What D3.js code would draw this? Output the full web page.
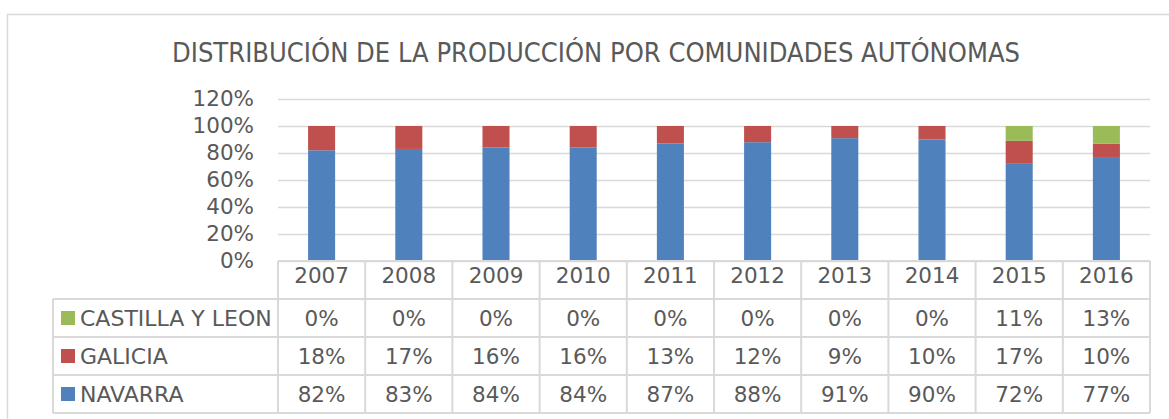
<!DOCTYPE html>
<html>
<head>
<meta charset="utf-8">
<script src="https://cdn.jsdelivr.net/npm/d3@7"></script>
<style>
  body { margin: 0; background: #fff; }
  text { font-family: 'DejaVu Sans', Verdana, sans-serif; fill: #595959; }
</style>
</head>
<body>
<div id="chart"></div>
<script>
const years = ['2007', '2008', '2009', '2010', '2011', '2012', '2013', '2014', '2015', '2016']
const navarra = [0.82, 0.83, 0.84, 0.84, 0.87, 0.88, 0.91, 0.90, 0.72, 0.77]
const galicia = [0.18, 0.17, 0.16, 0.16, 0.13, 0.12, 0.09, 0.10, 0.17, 0.10]
const castilla = [0, 0, 0, 0, 0, 0, 0, 0, 0.11, 0.13]
const seriesNames = ['NAVARRA', 'GALICIA', 'CASTILLA Y LEON']
const colors = ['#4F81BD', '#C0504D', '#9BBB59']
const yTicks = [0, 0.2, 0.4, 0.6, 0.8, 1.0, 1.2]

const W = 1169, H = 419
const plot = { left: 278, right: 1150, top: 99, bottom: 261 }
const rowH = 38

var svg = d3.select('#chart').append('svg')
    .attr('width', W)
    .attr('height', H)

// chart area border
svg.append('rect')
    .attr('x', 7.5).attr('y', 14.5)
    .attr('width', W).attr('height', H)
    .attr('fill', 'none')
    .attr('stroke', '#D9D9D9')
    .attr('stroke-width', 1.5)

svg.append('text')
    .attr('x', 596).attr('y', 62)
    .attr('text-anchor', 'middle')
    .attr('font-size', 26)
    .attr('textLength', 848)
    .attr('lengthAdjust', 'spacingAndGlyphs')
    .text('DISTRIBUCIÓN DE LA PRODUCCIÓN POR COMUNIDADES AUTÓNOMAS')

var x = d3.scaleBand().domain(years).range([plot.left, plot.right])
var y = d3.scaleLinear().domain([0, 1.2]).range([plot.bottom, plot.top])

// gridlines
var grid = svg.append('g')
    .attr('transform', 'translate(' + plot.left + ',0)')
    .call(d3.axisLeft(y).tickValues(yTicks).tickSize(-(plot.right - plot.left)).tickFormat(''))
grid.select('.domain').remove()
grid.selectAll('line').attr('stroke', '#D9D9D9').attr('stroke-width', 1.5)

// y labels
var yAxis = svg.append('g')
    .attr('transform', 'translate(254,0)')
    .call(d3.axisLeft(y).tickValues(yTicks).tickSize(0).tickPadding(0).tickFormat(d3.format('.0%')))
yAxis.select('.domain').remove()
yAxis.selectAll('text').attr('font-size', 21.5).attr('fill', '#595959')
    .style('font-family', "'DejaVu Sans', Verdana, sans-serif")

// stacked bars
var rows = years.map(function(yr, i) {
  return { year: yr, NAVARRA: navarra[i], GALICIA: galicia[i], 'CASTILLA Y LEON': castilla[i] }
})
var stack = d3.stack().keys(seriesNames)(rows)
var barW = x.bandwidth() * 0.31

svg.append('g').selectAll('g')
    .data(stack)
    .enter().append('g')
    .attr('fill', function(d, i) { return colors[i] })
    .selectAll('rect')
    .data(function(d) { return d })
    .enter().append('rect')
    .attr('x', function(d) { return x(d.data.year) + (x.bandwidth() - barW) / 2 })
    .attr('width', barW)
    .attr('y', function(d) { return y(d[1]) })
    .attr('height', function(d) { return y(d[0]) - y(d[1]) })

// data table
var table = svg.append('g')
var tableRows = [
  { name: 'CASTILLA Y LEON', vals: castilla, color: colors[2] },
  { name: 'GALICIA', vals: galicia, color: colors[1] },
  { name: 'NAVARRA', vals: navarra, color: colors[0] }
]
var lineColor = '#D9D9D9'
var tableTop = plot.bottom
var tableBottom = tableTop + rowH * 4
var tableLeft = 53

function hline(x1, x2, yy) {
  table.append('line').attr('x1', x1).attr('x2', x2).attr('y1', yy).attr('y2', yy)
      .attr('stroke', lineColor).attr('stroke-width', 2)
}
function vline(xx, y1, y2) {
  table.append('line').attr('x1', xx).attr('x2', xx).attr('y1', y1).attr('y2', y2)
      .attr('stroke', lineColor).attr('stroke-width', 2)
}

hline(plot.left, plot.right, tableTop)
for (var r = 1; r <= 4; r++) hline(tableLeft, plot.right, tableTop + rowH * r)
vline(tableLeft, tableTop + rowH, tableBottom)
years.forEach(function(yr) { vline(x(yr), tableTop, tableBottom) })
vline(plot.right, tableTop, tableBottom)

// year header
var xAxis = svg.append('g')
    .attr('transform', 'translate(0,' + (tableTop + 7) + ')')
    .call(d3.axisBottom(x).tickSize(0).tickPadding(0))
xAxis.select('.domain').remove()
xAxis.selectAll('text').attr('font-size', 21.5).attr('fill', '#595959')
    .attr('dy', '0.71em')
    .style('font-family', "'DejaVu Sans', Verdana, sans-serif")

var fmt = d3.format('.0%')
tableRows.forEach(function(row, ri) {
  var cy = tableTop + rowH * (ri + 1) + rowH / 2
  table.append('rect')
      .attr('x', 61).attr('y', cy - 7)
      .attr('width', 14).attr('height', 14)
      .attr('fill', row.color)
  table.append('text')
      .attr('x', 80).attr('y', cy)
      .attr('dy', '0.36em')
      .attr('font-size', 22)
      .text(row.name)
  table.selectAll('.val' + ri)
      .data(row.vals)
      .enter().append('text')
      .attr('class', 'val' + ri)
      .attr('x', function(d, i) { return x(years[i]) + x.bandwidth() / 2 })
      .attr('y', cy)
      .attr('dy', '0.36em')
      .attr('text-anchor', 'middle')
      .attr('font-size', 21.5)
      .text(function(d) { return fmt(d) })
})
</script>
</body>
</html>
